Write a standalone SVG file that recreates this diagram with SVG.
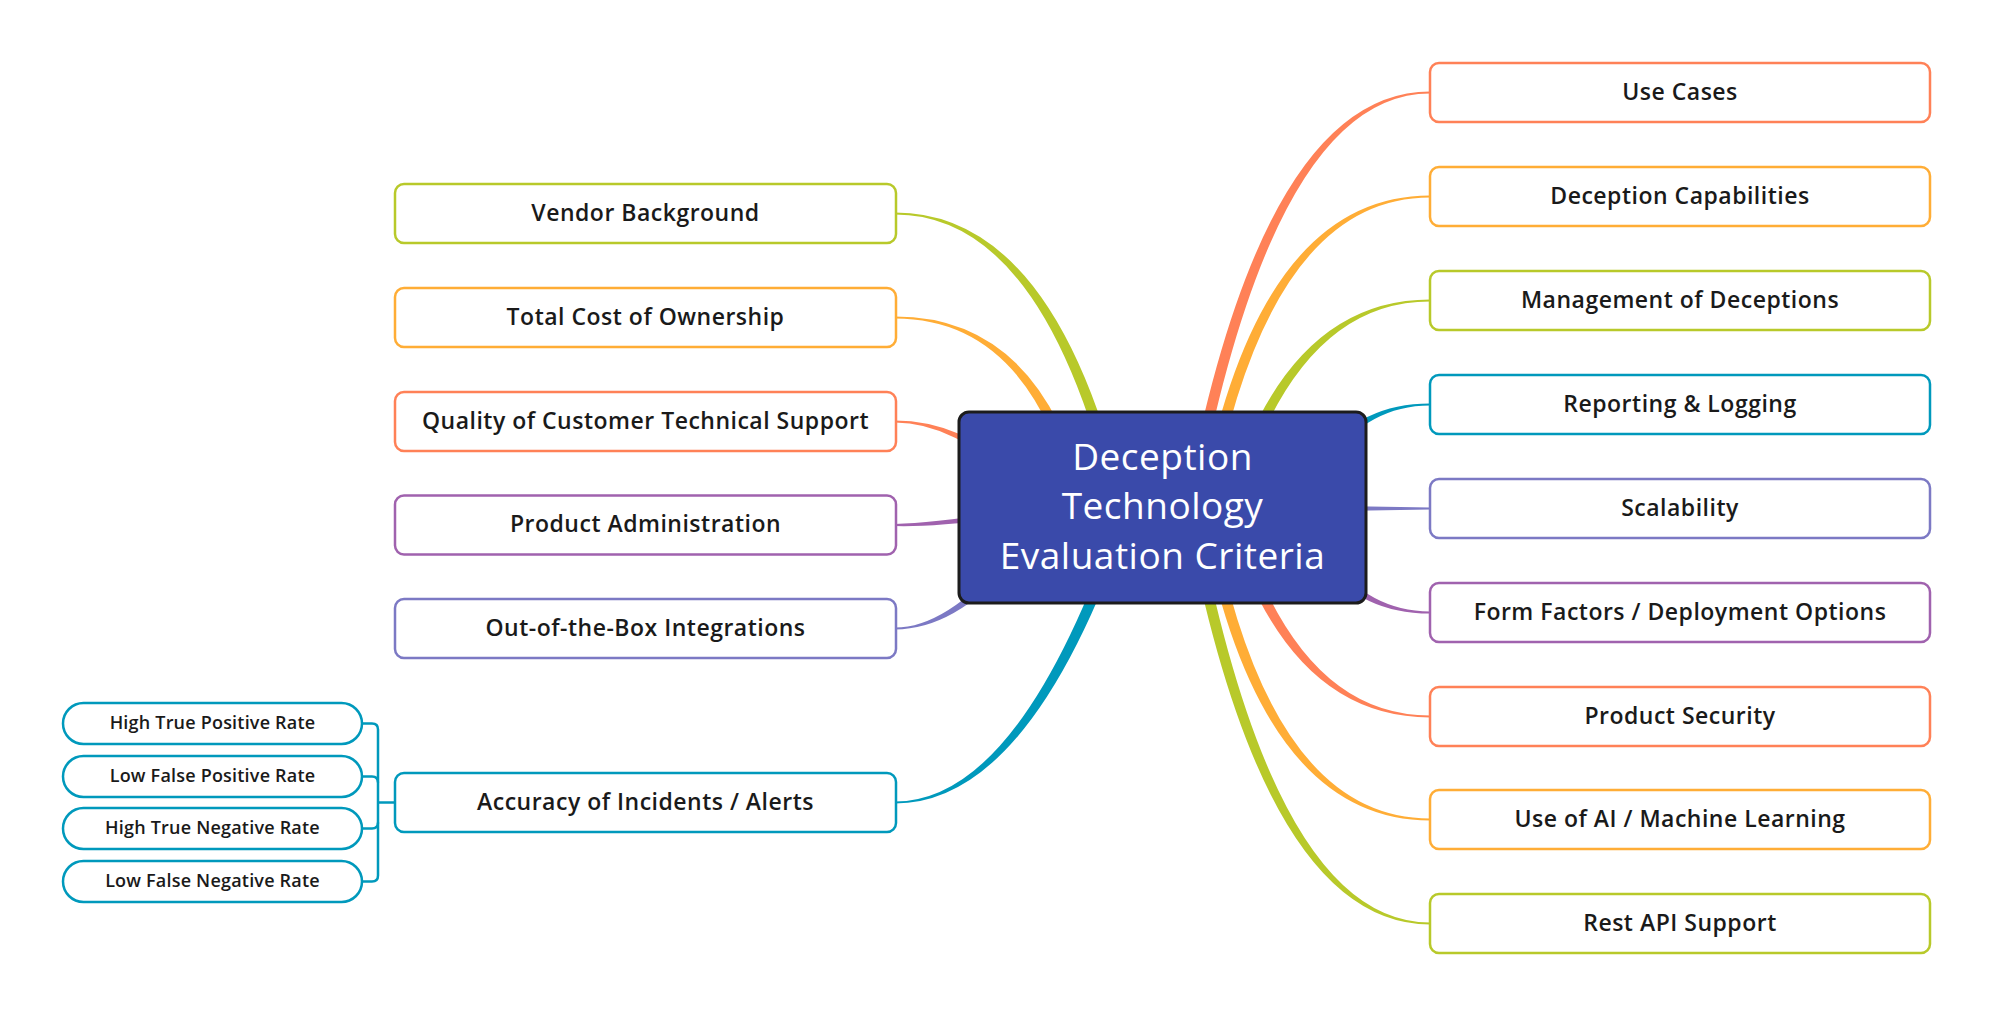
<svg xmlns="http://www.w3.org/2000/svg" width="1993" height="1015" viewBox="0 0 1993 1015">
<style>
.node rect{fill:#ffffff;stroke-width:2.5}
.lbl{font-family:"Open Sans","Noto Sans",sans-serif;font-weight:600;font-size:23px;letter-spacing:0.5px;fill:#1a1a1a;text-anchor:middle}
.sub{font-family:"Open Sans","Noto Sans",sans-serif;font-weight:600;font-size:18px;letter-spacing:0.2px;fill:#1a1a1a;text-anchor:middle}
.ctr{font-family:"Open Sans","Noto Sans",sans-serif;font-weight:500;font-size:37px;letter-spacing:0.5px;fill:#ffffff;text-anchor:middle}
.coral{stroke:#FF8157}.orange{stroke:#FFAD36}.lime{stroke:#B8C92A}.teal{stroke:#0099BC}.violet{stroke:#7C79C4}.purple{stroke:#A062AE}
.fcoral{fill:#FF8157}.forange{fill:#FFAD36}.flime{fill:#B8C92A}.fteal{fill:#0099BC}.fviolet{fill:#7C79C4}.fpurple{fill:#A062AE}
</style>
<rect width="1993" height="1015" fill="#ffffff"/>
<g id="connectors">
<path class="fcoral" d="M1195.4,508.5 Q1273.4,93.5 1430,93.5 L1430,91.5 Q1262.6,91.5 1184.6,506.5 Z"/>
<path class="forange" d="M1210.4,508.5 Q1267.4,197.5 1430,197.5 L1430,195.5 Q1256.6,195.5 1199.6,506.5 Z"/>
<path class="flime" d="M1235.3,509 Q1295.4,301.5 1430,301.5 L1430,299.5 Q1284.6,299.5 1224.7,506 Z"/>
<path class="fteal" d="M1328.2,460.4 Q1369.2,405.5 1430,405.5 L1430,403.5 Q1360.8,403.5 1321.8,455.6 Z"/>
<path class="fviolet" d="M1340,506 L1430,507.4 L1430,509.6 L1340,511 Z"/>
<path class="fpurple" d="M1328.2,556.6 Q1369.2,611.5 1430,611.5 L1430,613.5 Q1360.8,613.5 1321.8,561.4 Z"/>
<path class="fcoral" d="M1235.3,508 Q1295.4,715.5 1430,715.5 L1430,717.5 Q1284.6,717.5 1224.7,511 Z"/>
<path class="forange" d="M1210.4,507.5 Q1267.4,818.5 1430,818.5 L1430,820.5 Q1256.6,820.5 1199.6,509.5 Z"/>
<path class="flime" d="M1195.4,507.5 Q1273.4,922.5 1430,922.5 L1430,924.5 Q1262.6,924.5 1184.6,509.5 Z"/>
<path class="flime" d="M1125.4,506.2 Q1055.4,212.5 895,212.5 L895,214.5 Q1044.6,214.5 1114.6,508.8 Z"/>
<path class="forange" d="M1087.4,506.2 Q1042.4,316.5 895,316.5 L895,318.5 Q1031.6,318.5 1076.6,508.8 Z"/>
<path class="fcoral" d="M1022.7,477.1 Q962.8,420.5 895,420.5 L895,422.5 Q953.2,422.5 1017.3,482.9 Z"/>
<path class="fpurple" d="M999.6,513 Q929.9,522.9 895,524 L895,526 Q930.1,527.1 1000.4,519 Z"/>
<path class="fviolet" d="M1007,557.4 Q945.6,627.5 895,627.5 L895,629.5 Q954.4,629.5 1013,562.6 Z"/>
<path class="fteal" d="M1121.8,505.7 Q1021.5,801.5 895,801.5 L895,803.5 Q1032.5,803.5 1132.2,509.3 Z"/>
<g fill="none" stroke="#0099BC" stroke-width="2.5">
<path d="M362,723.5 H372 Q378,723.5 378,729.5 V875.5 Q378,881.5 372,881.5 H362"/>
<path d="M362,776.5 H372 Q378,776.5 378,782.5"/>
<path d="M362,828.5 H372 Q378,828.5 378,822.5"/>
<path d="M378,802.5 H396"/>
</g>
</g>
<g id="node-vendor" class="node"><rect class="lime" x="395" y="184" width="501" height="59" rx="9"/><text class="lbl" x="645.5" y="220.5">Vendor Background</text></g>
<g id="node-tco" class="node"><rect class="orange" x="395" y="288" width="501" height="59" rx="9"/><text class="lbl" x="645.5" y="324.5">Total Cost of Ownership</text></g>
<g id="node-quality" class="node"><rect class="coral" x="395" y="392" width="501" height="59" rx="9"/><text class="lbl" x="645.5" y="428.5">Quality of Customer Technical Support</text></g>
<g id="node-admin" class="node"><rect class="purple" x="395" y="495.5" width="501" height="59" rx="9"/><text class="lbl" x="645.5" y="532">Product Administration</text></g>
<g id="node-oob" class="node"><rect class="violet" x="395" y="599" width="501" height="59" rx="9"/><text class="lbl" x="645.5" y="635.5">Out-of-the-Box Integrations</text></g>
<g id="node-accuracy" class="node"><rect class="teal" x="395" y="773" width="501" height="59" rx="9"/><text class="lbl" x="645.5" y="809.5">Accuracy of Incidents / Alerts</text></g>
<g id="node-tpr" class="node"><rect class="teal" x="63" y="703" width="299" height="41" rx="20.5"/><text class="sub" x="212.5" y="729">High True Positive Rate</text></g>
<g id="node-fpr" class="node"><rect class="teal" x="63" y="756" width="299" height="41" rx="20.5"/><text class="sub" x="212.5" y="782">Low False Positive Rate</text></g>
<g id="node-tnr" class="node"><rect class="teal" x="63" y="808" width="299" height="41" rx="20.5"/><text class="sub" x="212.5" y="834">High True Negative Rate</text></g>
<g id="node-fnr" class="node"><rect class="teal" x="63" y="861" width="299" height="41" rx="20.5"/><text class="sub" x="212.5" y="887">Low False Negative Rate</text></g>
<g id="node-usecases" class="node"><rect class="coral" x="1430" y="63" width="500" height="59" rx="9"/><text class="lbl" x="1680" y="99.5">Use Cases</text></g>
<g id="node-capabilities" class="node"><rect class="orange" x="1430" y="167" width="500" height="59" rx="9"/><text class="lbl" x="1680" y="203.5">Deception Capabilities</text></g>
<g id="node-management" class="node"><rect class="lime" x="1430" y="271" width="500" height="59" rx="9"/><text class="lbl" x="1680" y="307.5">Management of Deceptions</text></g>
<g id="node-reporting" class="node"><rect class="teal" x="1430" y="375" width="500" height="59" rx="9"/><text class="lbl" x="1680" y="411.5">Reporting &amp; Logging</text></g>
<g id="node-scalability" class="node"><rect class="violet" x="1430" y="479" width="500" height="59" rx="9"/><text class="lbl" x="1680" y="515.5">Scalability</text></g>
<g id="node-formfactors" class="node"><rect class="purple" x="1430" y="583" width="500" height="59" rx="9"/><text class="lbl" x="1680" y="619.5">Form Factors / Deployment Options</text></g>
<g id="node-security" class="node"><rect class="coral" x="1430" y="687" width="500" height="59" rx="9"/><text class="lbl" x="1680" y="723.5">Product Security</text></g>
<g id="node-ai" class="node"><rect class="orange" x="1430" y="790" width="500" height="59" rx="9"/><text class="lbl" x="1680" y="826.5">Use of AI / Machine Learning</text></g>
<g id="node-restapi" class="node"><rect class="lime" x="1430" y="894" width="500" height="59" rx="9"/><text class="lbl" x="1680" y="930.5">Rest API Support</text></g>
<g id="node-central">
<rect x="959" y="412" width="407" height="191" rx="10" fill="#3A4AAA" stroke="#1C1C1C" stroke-width="3"/>
<text class="ctr" x="1162.5" y="470">Deception</text>
<text class="ctr" x="1162.5" y="519">Technology</text>
<text class="ctr" x="1162.5" y="569">Evaluation Criteria</text>
</g>
</svg>
